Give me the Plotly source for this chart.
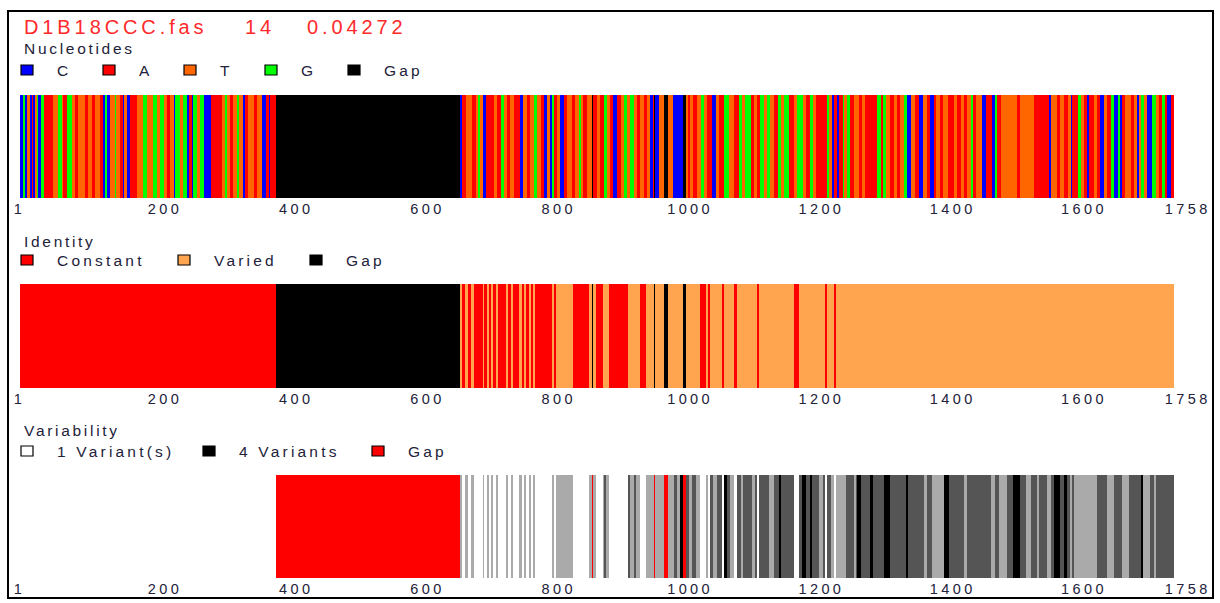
import plotly.graph_objects as go

W, H = 1220, 603
SEQ_LEN = 1758

# ---- header -------------------------------------------------------------
title_parts = ["D1B18CCC.fas", "14", "0.04272"]
title_x = [22, 243, 305]

tick_values = [1, 200, 400, 600, 800, 1000, 1200, 1400, 1600, 1758]
tick_labels = [str(v) for v in tick_values]

# ---- consensus nucleotides: (first position, base); "-" is an alignment gap
nuc_names = ["C", "A", "T", "G", "Gap"]
nuc_keys = ["C", "A", "T", "G", "-"]
nuc_colors = ["#0000FF", "#FF0000", "#FF6600", "#00FF00", "#000000"]
nuc_runs = [
    (1, "C"), (5, "G"), (9, "C"), (11, "T"), (16, "C"), (19, "A"), (21, "C"), (24, "T"),
    (27, "G"), (29, "C"), (33, "G"), (37, "A"), (52, "T"), (59, "G"), (65, "T"), (67, "A"),
    (72, "G"), (80, "T"), (85, "A"), (90, "T"), (100, "A"), (104, "T"), (110, "A"), (115, "T"),
    (123, "A"), (128, "C"), (131, "G"), (133, "C"), (138, "T"), (146, "G"), (148, "T"), (153, "A"),
    (158, "C"), (160, "T"), (164, "C"), (168, "A"), (179, "T"), (189, "G"), (194, "T"), (204, "G"),
    (209, "T"), (214, "G"), (220, "T"), (225, "A"), (230, "T"), (235, "C"), (237, "G"), (245, "T"),
    (249, "G"), (255, "C"), (258, "A"), (263, "C"), (265, "G"), (270, "T"), (275, "G"), (281, "C"),
    (292, "A"), (308, "T"), (314, "G"), (316, "T"), (321, "A"), (326, "T"), (331, "G"), (334, "T"),
    (341, "C"), (344, "A"), (349, "T"), (357, "A"), (362, "T"), (369, "C"), (375, "A"), (380, "C"),
    (382, "A"), (391, "-"),
    (671, "C"), (675, "A"), (680, "T"), (690, "A"), (695, "T"), (698, "G"), (702, "T"), (707, "C"),
    (711, "A"), (723, "T"), (728, "A"), (733, "G"), (738, "T"), (743, "A"), (748, "T"), (753, "A"),
    (763, "C"), (767, "T"), (773, "A"), (778, "T"), (784, "G"), (789, "T"), (794, "A"), (799, "C"),
    (804, "T"), (809, "C"), (812, "G"), (814, "A"), (819, "T"), (824, "C"), (829, "A"), (834, "T"),
    (842, "A"), (847, "T"), (852, "G"), (855, "T"), (859, "A"), (865, "T"), (872, "-"), (874, "A"),
    (880, "T"), (885, "A"), (890, "G"), (895, "T"), (900, "A"), (905, "C"), (911, "A"), (916, "T"),
    (921, "G"), (926, "T"), (931, "G"), (936, "T"), (941, "A"), (946, "T"), (951, "A"), (956, "T"),
    (961, "C"), (965, "A"), (967, "-"), (969, "C"), (974, "T"), (982, "-"), (988, "T"), (996, "C"),
    (1011, "-"), (1015, "T"), (1018, "A"), (1022, "T"), (1027, "A"), (1033, "T"), (1038, "G"),
    (1043, "T"), (1048, "A"), (1055, "C"), (1061, "T"), (1066, "A"), (1073, "G"), (1081, "T"),
    (1088, "A"), (1096, "G"), (1101, "T"), (1106, "G"), (1114, "A"), (1119, "T"), (1124, "A"),
    (1129, "G"), (1134, "T"), (1139, "G"), (1144, "T"), (1149, "A"), (1155, "G"), (1160, "T"),
    (1165, "G"), (1172, "A"), (1180, "T"), (1185, "G"), (1194, "T"), (1198, "A"), (1205, "G"),
    (1209, "T"), (1213, "A"), (1231, "G"), (1233, "T"), (1238, "C"), (1241, "A"), (1246, "C"),
    (1248, "A"), (1254, "G"), (1256, "T"), (1261, "G"), (1265, "A"), (1271, "T"), (1279, "A"),
    (1284, "T"), (1289, "A"), (1307, "G"), (1312, "A"), (1316, "G"), (1321, "T"), (1327, "A"),
    (1333, "T"), (1337, "A"), (1342, "T"), (1348, "G"), (1353, "C"), (1358, "T"), (1365, "A"),
    (1370, "C"), (1377, "T"), (1383, "A"), (1388, "C"), (1393, "A"), (1397, "T"), (1402, "A"),
    (1407, "T"), (1414, "A"), (1424, "T"), (1429, "A"), (1434, "T"), (1439, "A"), (1444, "T"),
    (1449, "G"), (1453, "A"), (1457, "T"), (1467, "C"), (1472, "A"), (1482, "C"), (1487, "G"),
    (1490, "A"), (1495, "T"), (1520, "A"), (1525, "T"), (1546, "A"), (1569, "C"), (1572, "T"),
    (1581, "A"), (1586, "T"), (1591, "A"), (1597, "T"), (1602, "C"), (1604, "A"), (1612, "G"),
    (1617, "T"), (1622, "A"), (1626, "C"), (1630, "A"), (1637, "T"), (1642, "A"), (1647, "C"),
    (1652, "T"), (1657, "A"), (1663, "G"), (1668, "C"), (1674, "G"), (1677, "C"), (1680, "A"),
    (1685, "T"), (1693, "A"), (1698, "T"), (1703, "C"), (1706, "T"), (1709, "G"), (1713, "T"),
    (1718, "C"), (1725, "G"), (1731, "T"), (1736, "A"), (1741, "G"), (1745, "A"), (1749, "C"),
    (1755, "A"),
]

# ---- number of distinct residues per column: (first position, count); "-" = gap
var_keys = ["1", "2", "3", "4", "-"]
var_colors = ["#FFFFFF", "#AAAAAA", "#555555", "#000000", "#FF0000"]
var_legend_names = ["1 Variant(s)", "4 Variants", "Gap"]
var_legend_colors = ["#FFFFFF", "#000000", "#FF0000"]
var_runs = [
    (1, "1"), (391, "-"), (671, "2"), (675, "1"), (679, "2"), (683, "1"), (688, "2"), (692, "1"),
    (706, "2"), (708, "1"), (712, "2"), (715, "1"), (718, "2"), (722, "1"), (726, "2"), (729, "1"),
    (741, "2"), (745, "1"), (749, "2"), (752, "1"), (761, "2"), (765, "1"), (769, "2"), (772, "1"),
    (776, "2"), (779, "1"), (782, "2"), (786, "1"), (811, "2"), (814, "1"), (818, "2"), (844, "1"),
    (868, "2"), (872, "-"), (874, "2"), (879, "1"), (889, "2"), (891, "3"), (894, "2"), (898, "1"),
    (927, "3"), (930, "2"), (936, "3"), (940, "2"), (945, "1"), (955, "2"), (967, "-"), (969, "2"),
    (982, "-"), (988, "2"), (997, "3"), (1002, "2"), (1006, "4"), (1011, "-"), (1015, "3"),
    (1020, "2"), (1025, "3"), (1031, "2"), (1037, "1"), (1046, "2"), (1049, "1"), (1052, "3"),
    (1057, "2"), (1063, "3"), (1070, "1"), (1073, "4"), (1078, "3"), (1083, "2"), (1089, "1"),
    (1093, "3"), (1100, "2"), (1103, "3"), (1116, "2"), (1121, "3"), (1124, "1"), (1127, "3"),
    (1142, "2"), (1149, "3"), (1157, "4"), (1161, "3"), (1180, "1"), (1187, "3"), (1193, "4"),
    (1198, "3"), (1205, "4"), (1208, "3"), (1218, "2"), (1224, "3"), (1228, "1"), (1230, "3"),
    (1236, "2"), (1241, "1"), (1244, "2"), (1259, "3"), (1271, "2"), (1274, "3"), (1276, "4"),
    (1282, "3"), (1296, "4"), (1300, "3"), (1317, "4"), (1327, "3"), (1350, "4"), (1354, "3"),
    (1378, "2"), (1383, "3"), (1391, "2"), (1409, "4"), (1416, "3"), (1439, "2"), (1444, "3"),
    (1480, "2"), (1487, "3"), (1492, "2"), (1505, "3"), (1513, "4"), (1525, "3"), (1533, "2"),
    (1541, "3"), (1550, "2"), (1554, "3"), (1566, "2"), (1571, "3"), (1576, "4"), (1586, "3"),
    (1591, "4"), (1596, "3"), (1600, "2"), (1603, "3"), (1607, "2"), (1642, "3"), (1657, "2"),
    (1668, "3"), (1680, "2"), (1690, "3"), (1708, "4"), (1712, "2"), (1722, "3"), (1728, "2"),
    (1731, "3"),
]

# ---- identity: a column is constant with one residue, varied with more
identity_names = ["Constant", "Varied", "Gap"]
identity_colors = ["#FF0000", "#FFA54F", "#000000"]


def expand(runs, n):
    out = []
    for i, (start, key) in enumerate(runs):
        stop = runs[i + 1][0] if i + 1 < len(runs) else n + 1
        out.extend([key] * (stop - start))
    return out


positions = list(range(1, SEQ_LEN + 1))
nuc_cols = expand(nuc_runs, SEQ_LEN)
var_cols = expand(var_runs, SEQ_LEN)
ident_cols = ["Gap" if v == "-" else ("Constant" if v == "1" else "Varied") for v in var_cols]

nuc_z = [nuc_keys.index(k) for k in nuc_cols]
var_z = [var_keys.index(k) for k in var_cols]
ident_z = [identity_names.index(k) for k in ident_cols]


def step_scale(colors):
    n = len(colors)
    scale = []
    for i, c in enumerate(colors):
        scale.append([i / n, c])
        scale.append([(i + 1) / n, c])
    return scale


# ---- page geometry (pixels) ---------------------------------------------
X0, X1 = 20, 1174
tracks = [
    dict(z=nuc_z, colors=nuc_colors, top=95, bottom=198),
    dict(z=ident_z, colors=identity_colors, top=284, bottom=388),
    dict(z=var_z, colors=var_colors, top=475, bottom=578),
]

FONT = "Liberation Sans, Arial, sans-serif"
TEXT_COLOR = "#22223a"


def spaced(text, ls):
    return f'<span style="letter-spacing:{ls}px">{text}</span>'


def tick_text(label):
    # labels sit right of their tick; the first one stays over the start of the bar
    pad = "\u00a0" * 4 if label == tick_labels[0] else ""
    return spaced(label + pad, 3.4)


fig = go.Figure()
layout_axes = {}
for i, t in enumerate(tracks):
    n = len(t["colors"])
    sfx = "" if i == 0 else str(i + 1)
    fig.add_trace(go.Heatmap(
        x=positions, y=[0], z=[t["z"]],
        colorscale=step_scale(t["colors"]), zmin=-0.5, zmax=n - 0.5,
        showscale=False, hoverinfo="skip",
        xaxis="x" + sfx, yaxis="y" + sfx,
    ))
    layout_axes["xaxis" + sfx] = dict(
        domain=[X0 / W, X1 / W], anchor="y" + sfx, range=[0.5, SEQ_LEN + 0.5],
        showgrid=False, zeroline=False, showline=False, ticks="",
        tickmode="array", tickvals=tick_values,
        ticktext=[tick_text(s) for s in tick_labels],
        tickangle=0, ticklabelshift=14, automargin=False,
        tickfont=dict(family=FONT, size=14.5, color=TEXT_COLOR),
        fixedrange=True,
    )
    layout_axes["yaxis" + sfx] = dict(
        domain=[1 - t["bottom"] / H, 1 - t["top"] / H], anchor="x" + sfx,
        range=[-0.5, 0.5], visible=False, fixedrange=True, automargin=False,
    )

annotations = []
shapes = []


def add_text(text, px, py, size, color, ls):
    annotations.append(dict(
        text=spaced(text, ls), x=px / W, y=1 - py / H, xref="paper", yref="paper",
        xanchor="left", yanchor="middle", showarrow=False,
        font=dict(family=FONT, size=size, color=color),
    ))


for txt, px in zip(title_parts, title_x):
    add_text(txt, px, 27, 20, "#FF2A2A", 3.9)

legend_rows = [
    dict(title="Nucleotides", title_y=49, row_y=70, names=nuc_names, colors=nuc_colors,
         xs=[21, 103, 184, 265, 348]),
    dict(title="Identity", title_y=241, row_y=260, names=identity_names, colors=identity_colors,
         xs=[21, 178, 310]),
    dict(title="Variability", title_y=430, row_y=451, names=var_legend_names,
         colors=var_legend_colors, xs=[21, 203, 372]),
]
for row in legend_rows:
    add_text(row["title"], 22, row["title_y"], 15.5, TEXT_COLOR, 2.7)
    for name, col, sx in zip(row["names"], row["colors"], row["xs"]):
        shapes.append(dict(
            type="rect", xref="paper", yref="paper",
            x0=sx / W, x1=(sx + 12) / W,
            y0=1 - (row["row_y"] + 5) / H, y1=1 - (row["row_y"] - 5) / H,
            fillcolor=col, line=dict(color="#000000", width=1.2),
        ))
        add_text(name, sx + 34, row["row_y"], 15.5, TEXT_COLOR, 3.2)

# outer frame
shapes.append(dict(
    type="rect", xref="paper", yref="paper",
    x0=8 / W, x1=1213 / W, y0=1 - 598 / H, y1=1 - 11 / H,
    line=dict(color="#000000", width=2), fillcolor="rgba(0,0,0,0)",
))

fig.update_layout(
    width=W, height=H, autosize=False, margin=dict(l=0, r=0, t=0, b=0, autoexpand=False),
    paper_bgcolor="#FFFFFF", plot_bgcolor="#FFFFFF",
    showlegend=False, annotations=annotations, shapes=shapes,
    **layout_axes,
)

fig.write_html("out.html", config={"displayModeBar": False, "responsive": False})
